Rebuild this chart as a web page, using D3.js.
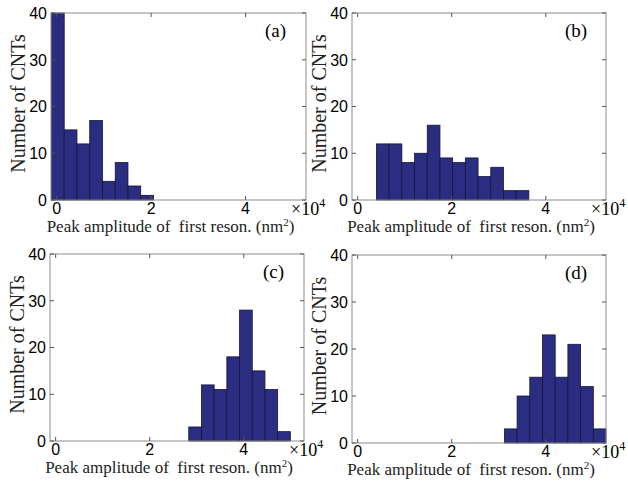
<!DOCTYPE html>
<html>
<head>
<meta charset="utf-8">
<script src="https://cdn.jsdelivr.net/npm/d3@7"></script>
<style>
  body { margin: 0; background: #fff; }
</style>
</head>
<body>
<div class="vis"></div>
<script>
(function() {
  'use strict';

  // histogram counts per panel
  var countsA = [40, 15, 12, 17, 4, 8, 3, 1],
    countsB = [12, 12, 8, 10, 16, 9, 8, 9, 5, 7, 2, 2],
    countsC = [3, 12, 11, 18, 28, 15, 11, 2],
    countsD = [3, 10, 14, 23, 14, 21, 12, 3];

  // left edge of first bin (x10^4 nm^2) and common bin width
  var binStart = [-0.11, 0.40, 2.83, 3.12],
    binWidth = 0.27;

  var xTicks = [0, 2, 4],
    yTicks = [0, 10, 20, 30, 40],
    panelLabels = ['(a)', '(b)', '(c)', '(d)'];

  var allCounts = [countsA, countsB, countsC, countsD];

  // plot boxes: left, right, top, bottom
  var boxes = [
    [51, 306, 13, 200],
    [352, 606, 13, 200],
    [50, 304, 254, 441],
    [352, 606, 255, 443]
  ];

  var serif = 'Liberation Serif',
    sans = 'Liberation Sans';

  var svg = d3.select('.vis').append('svg')
    .attr('width', 628)
    .attr('height', 483);

  allCounts.forEach(function(counts, p) {
    var b = boxes[p];
    var x = d3.scaleLinear().domain([-0.12, 5.28]).range([b[0], b[1]]);
    var y = d3.scaleLinear().domain([0, 40]).range([b[3], b[2]]);
    var g = svg.append('g');

    var bins = counts.map(function(c, i) {
      return {x0: binStart[p] + i * binWidth, x1: binStart[p] + (i + 1) * binWidth, n: c};
    });

    g.selectAll('.bar')
      .data(bins)
      .enter()
      .append('rect')
        .attr('class', 'bar')
        .attr('x', function(d) { return x(d.x0); })
        .attr('width', function(d) { return x(d.x1) - x(d.x0); })
        .attr('y', function(d) { return y(d.n); })
        .attr('height', function(d) { return y(0) - y(d.n); })
        .attr('fill', '#2b2d80')
        .attr('stroke', '#15153a')
        .attr('stroke-width', 0.8);

    // frame
    g.append('rect')
      .attr('x', b[0]).attr('y', b[2])
      .attr('width', b[1] - b[0]).attr('height', b[3] - b[2])
      .attr('fill', 'none')
      .attr('stroke', '#8c8c8c')
      .attr('stroke-width', 1);

    // inward ticks on all four sides
    var tk = 4;
    g.selectAll('.xt')
      .data(xTicks)
      .enter()
      .append('path')
        .attr('d', function(d) {
          var px = x(d);
          return 'M' + px + ',' + b[3] + 'v' + (-tk) + 'M' + px + ',' + b[2] + 'v' + tk;
        })
        .attr('stroke', '#555');
    g.selectAll('.yt')
      .data(yTicks)
      .enter()
      .append('path')
        .attr('d', function(d) {
          var py = y(d);
          return 'M' + b[0] + ',' + py + 'h' + tk + 'M' + b[1] + ',' + py + 'h' + (-tk);
        })
        .attr('stroke', '#555');

    g.selectAll('.xl')
      .data(xTicks)
      .enter()
      .append('text')
        .attr('font-family', sans)
        .attr('x', function(d) { return x(d); })
        .attr('y', b[3] + 14)
        .attr('text-anchor', 'middle')
        .attr('font-size', 16)
        .text(function(d) { return d; });

    g.selectAll('.yl')
      .data(yTicks)
      .enter()
      .append('text')
        .attr('font-family', sans)
        .attr('x', b[0] - 4)
        .attr('y', function(d) { return y(d); })
        .attr('dy', '0.36em')
        .attr('text-anchor', 'end')
        .attr('font-size', 16)
        .text(function(d) { return d; });

    // x10^4 multiplier
    var mult = g.append('text')
      .attr('font-family', serif)
      .attr('x', b[1] - 15)
      .attr('y', b[3] + 15)
      .attr('font-size', 18);
    mult.append('tspan').attr('font-family', serif).text('\u00d710');
    mult.append('tspan').attr('font-family', serif).attr('font-size', 12).attr('dy', -8).text('4');

    // x label
    var xl = g.append('text')
      .attr('font-family', serif)
      .attr('x', (b[0] + b[1]) / 2 - 8)
      .attr('y', b[3] + 32)
      .attr('text-anchor', 'middle')
      .attr('font-size', 17)
      .attr('fill', '#222');
    xl.append('tspan').attr('font-family', serif).text('Peak amplitude of\u00a0 first reson. (nm');
    xl.append('tspan').attr('font-family', serif).attr('font-size', 11).attr('dy', -6).text('2');
    xl.append('tspan').attr('font-family', serif).attr('dy', 6).text(')');

    // y label
    g.append('text')
      .attr('font-family', serif)
      .attr('transform', 'translate(' + (b[0] - 26) + ',' + ((b[2] + b[3]) / 2 - 3) + ') rotate(-90)')
      .attr('text-anchor', 'middle')
      .attr('font-size', 20)
      .attr('fill', '#222')
      .text('Number of CNTs');

    // panel tag
    g.append('text')
      .attr('font-family', serif)
      .attr('x', b[1] - 41)
      .attr('y', b[2] + 24)
      .attr('font-size', 19)
      .text(panelLabels[p]);
  });
}());
</script>
</body>
</html>
